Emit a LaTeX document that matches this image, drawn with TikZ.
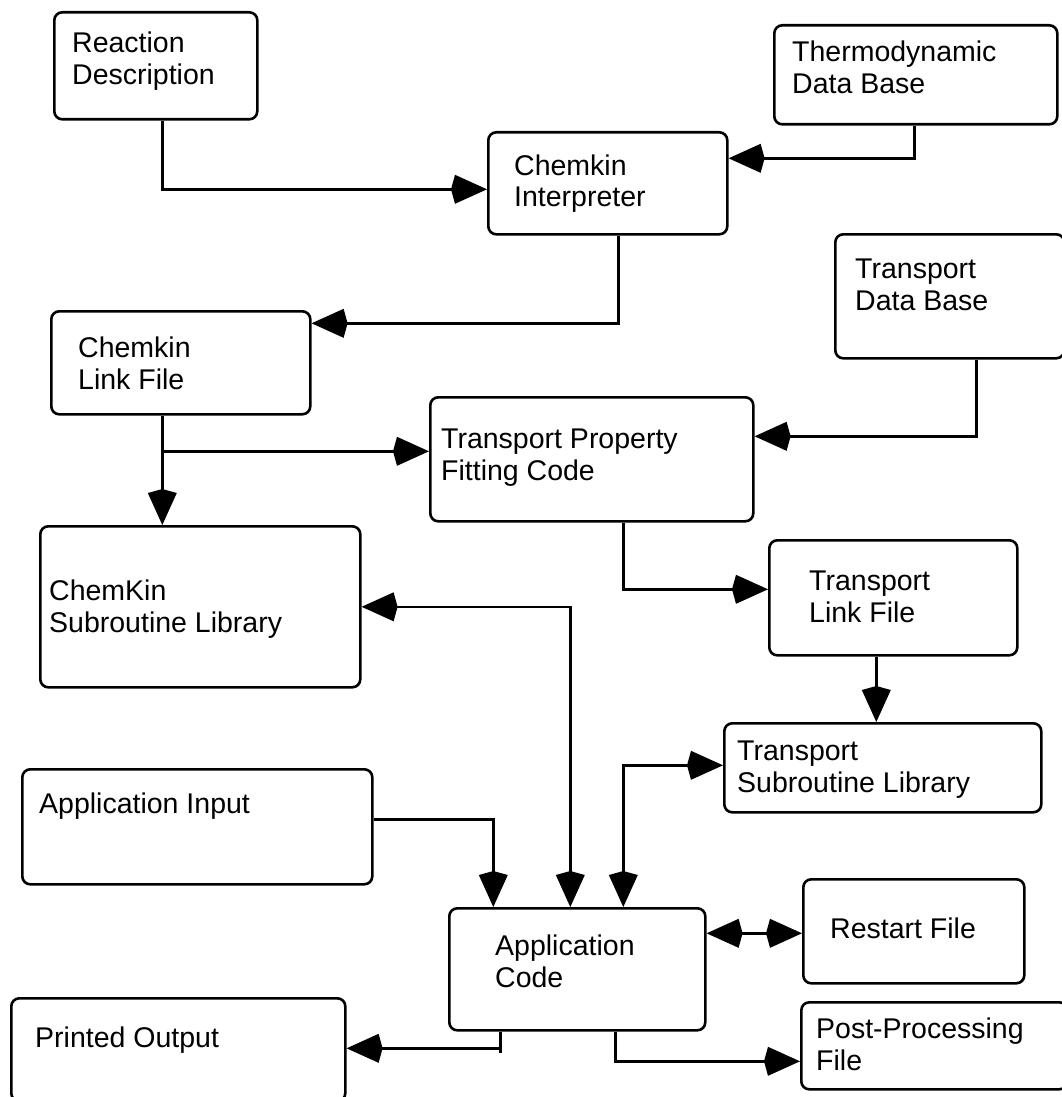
\documentclass[tikz,border=0pt]{standalone}
\usepackage{fontspec}
\setmainfont{Liberation Sans}
\usetikzlibrary{arrows.meta}
\newcommand\twolines[2]{\begin{tabular}[t]{@{}l@{}}#1\\#2\end{tabular}}
\begin{document}
\begin{tikzpicture}[x=1pt,y=-1pt,
  box/.style={draw, line width=2.6pt, rounded corners=8pt, anchor=north west, inner sep=0pt},
  lbl/.style={anchor=base west, inner sep=0pt, font=\fontsize{28.5}{32}\selectfont},
  arr/.style={line width=2.4pt, -{Kite[length=36pt,width=29pt,inset=4pt]}},
  arrtwo/.style={line width=2.4pt, {Kite[length=36pt,width=29pt,inset=4pt]}-{Kite[length=36pt,width=29pt,inset=4pt]}},
  plain/.style={line width=2.4pt}]
\useasboundingbox (0,0) rectangle (1062,1097);
\fill[white] (0,0) rectangle (1062,1097);

% boxes
\node[box, minimum width=203pt, minimum height=107pt] (rd)  at (53,11)   {};
\node[box, minimum width=239pt, minimum height=102pt] (ci)  at (487,131) {};
\node[box, minimum width=283pt, minimum height=99pt]  (td)  at (773,24)  {};
\node[box, minimum width=229pt, minimum height=124pt] (trd) at (834,233) {};
\node[box, minimum width=259pt, minimum height=103pt] (clf) at (50,310)  {};
\node[box, minimum width=323pt, minimum height=124pt] (tpf) at (429,396) {};
\node[box, minimum width=320pt, minimum height=161pt] (csl) at (39,525)  {};
\node[box, minimum width=248pt, minimum height=115pt] (tlf) at (768,539) {};
\node[box, minimum width=317pt, minimum height=89pt]  (tsl) at (723,722) {};
\node[box, minimum width=350pt, minimum height=115pt] (ai)  at (21,768)  {};
\node[box, minimum width=256pt, minimum height=122pt] (ac)  at (448,907) {};
\node[box, minimum width=221pt, minimum height=104pt] (rf)  at (802,878) {};
\node[box, minimum width=266pt, minimum height=87pt]  (ppf) at (800,1001) {};
\node[box, minimum width=334pt, minimum height=103pt] (po)  at (10,997)  {};

% labels
\node[lbl] (rdt)  at (72,53)   {\twolines{Reaction}{Description}};
\node[lbl] (cit)  at (514,175) {\twolines{Chemkin}{Interpreter}};
\node[lbl] (tdt)  at (792,62)  {\twolines{Thermodynamic}{Data Base}};
\node[lbl] (trdt) at (855,278) {\twolines{Transport}{Data Base}};
\node[lbl] (clft) at (78,357)  {\twolines{Chemkin}{Link File}};
\node[lbl] (tpft) at (441,448) {\twolines{Transport Property}{Fitting Code}};
\node[lbl] (cslt) at (49,600)  {\twolines{ChemKin}{Subroutine Library}};
\node[lbl] (tlft) at (809,590) {\twolines{Transport}{Link File}};
\node[lbl] (tslt) at (737,760) {\twolines{Transport}{Subroutine Library}};
\node[lbl] (ait)  at (39,813)  {Application Input};
\node[lbl] (act)  at (495,955) {\twolines{Application}{Code}};
\node[lbl] (rft)  at (830,938) {Restart File};
\node[lbl] (ppft) at (816,1038) {\twolines{Post-Processing}{File}};
\node[lbl] (pot)  at (35,1047) {Printed Output};

% connectors
\draw[arr] ([xshift=6.5pt]rd.south) |- ([yshift=-6pt]ci.west);
\draw[arr] ([xshift=-1.5pt]td.south) |- ([yshift=25pt]ci.east);
\draw[arr] ([xshift=10.5pt]ci.south) |- ([yshift=39.5pt]clf.east);
\draw[arr] ([xshift=26.5pt]trd.south) |- ([yshift=23pt]tpf.east);
\draw[arr] ([xshift=-18.5pt]clf.south) -- ([xshift=-18.5pt]clf.south |- csl.north);
\draw[arr] ([xshift=-18.5pt]clf.south) |- ([yshift=8pt]tpf.west);
\draw[arr] ([xshift=31.5pt]tpf.south) |- ([yshift=8.5pt]tlf.west);
\draw[arr] ([xshift=-17pt]tlf.south) -- ([xshift=-17pt]tlf.south |- tsl.north);
\draw[arrtwo] (csl.east) -| ([xshift=-7pt]ac.north);
\draw[arrtwo] ([yshift=2.5pt]tsl.west) -| ([xshift=46pt]ac.north);
\draw[arr] ([yshift=7.5pt]ai.east) -| ([xshift=-84pt]ac.north);
\draw[arrtwo] ([yshift=36pt]ac.east) -- ([yshift=36pt]ac.east -| rf.west);
\draw[plain] ([xshift=-77pt]ac.south) -- ++(0,21);
\draw[arr] ([xshift=-77pt]ac.south) |- ([yshift=1.5pt]po.east);
\draw[arr] ([xshift=38pt]ac.south) |- ([yshift=-15.5pt]ppf.west);
\end{tikzpicture}
\end{document}
